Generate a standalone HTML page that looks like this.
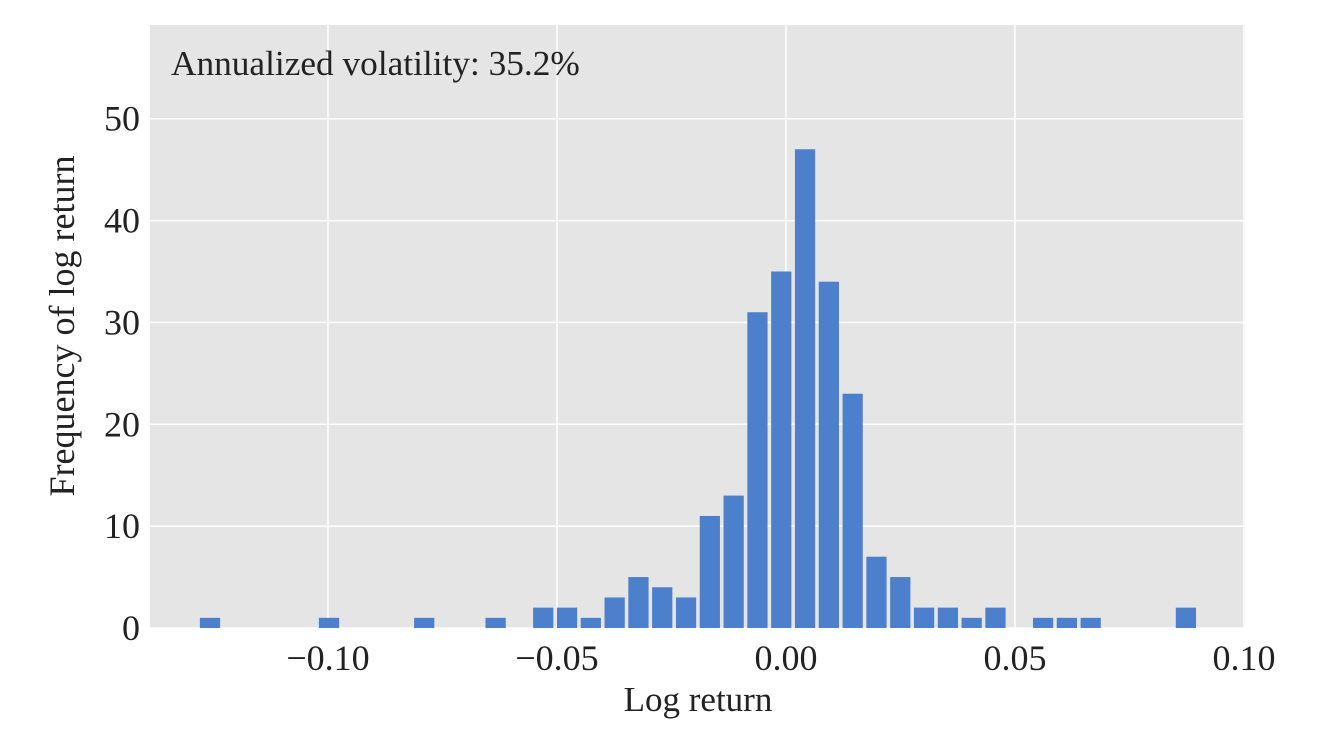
<!DOCTYPE html>
<html><head><meta charset="utf-8"><style>
html,body{margin:0;padding:0;background:#fff;width:1318px;height:742px;overflow:hidden}
svg text{font-family:"Liberation Serif",serif;fill:#222}
</style></head><body>
<svg id="chart" width="1318" height="742">
<rect x="150" y="25" width="1095" height="603" fill="#e5e5e5"/>
<g id="grid"></g><g id="bars"></g><g id="xt"></g><g id="yt"></g>
<text x="171" y="75" font-size="35.3">Annualized volatility: 35.2%</text>
<text x="698" y="711" font-size="35" text-anchor="middle">Log return</text>
<text transform="translate(74,326) rotate(-90)" font-size="36" text-anchor="middle">Frequency of log return</text>
</svg>
<script>
const binStart = -0.12836;
const binWidth = 0.005197;
const counts = [1,0,0,0,0,1,0,0,0,1,0,0,1,0,2,2,1,3,5,4,3,11,13,31,35,47,34,23,7,5,2,2,1,2,0,1,1,1,0,0,0,2];
const xTicks = [-0.10,-0.05,0.00,0.05,0.10];
const xTickLabels = ["\u22120.10","\u22120.05","0.00","0.05","0.10"];
const yTicks = [0,10,20,30,40,50];
const X0=150,X1=1245,Y0=628,Y1=25,xmin=-0.13886,xmax=0.10022,ymin=0,ymax=59.2;
const sx=v=>X0+(v-xmin)/(xmax-xmin)*(X1-X0);
const sy=v=>Y0-(v-ymin)/(ymax-ymin)*(Y0-Y1);
const NS="http://www.w3.org/2000/svg";
function mk(t,a,p){const e=document.createElementNS(NS,t);for(const k in a)e.setAttribute(k,a[k]);document.getElementById(p).appendChild(e);return e;}
xTicks.forEach((v,i)=>{
 const l=mk('line',{x1:sx(v),x2:sx(v),y1:Y1,y2:Y0,stroke:'#fff','stroke-width':1.5},'grid');
 
 
 const t=mk('text',{x:sx(v),y:670,'font-size':36,'text-anchor':'middle'},'xt');t.textContent=xTickLabels[i];
 
 
});
yTicks.forEach(v=>{
 const l=mk('line',{x1:X0,x2:X1,y1:sy(v),y2:sy(v),stroke:'#fff','stroke-width':1.5},'grid');
 
 
 const t=mk('text',{x:140,y:sy(v)+12,'font-size':36,'text-anchor':'end'},'yt');t.textContent=v;
 
 
});
counts.forEach((c,i)=>{
 if(!c)return;
 const a=binStart+i*binWidth,b=a+binWidth,pad=binWidth*0.075;
 const r=mk('rect',{x:sx(a+pad),width:sx(b-pad)-sx(a+pad),y:sy(c),height:sy(0)-sy(c),fill:'#4c80cc'},'bars');
 
 
});
</script>
</body></html>
